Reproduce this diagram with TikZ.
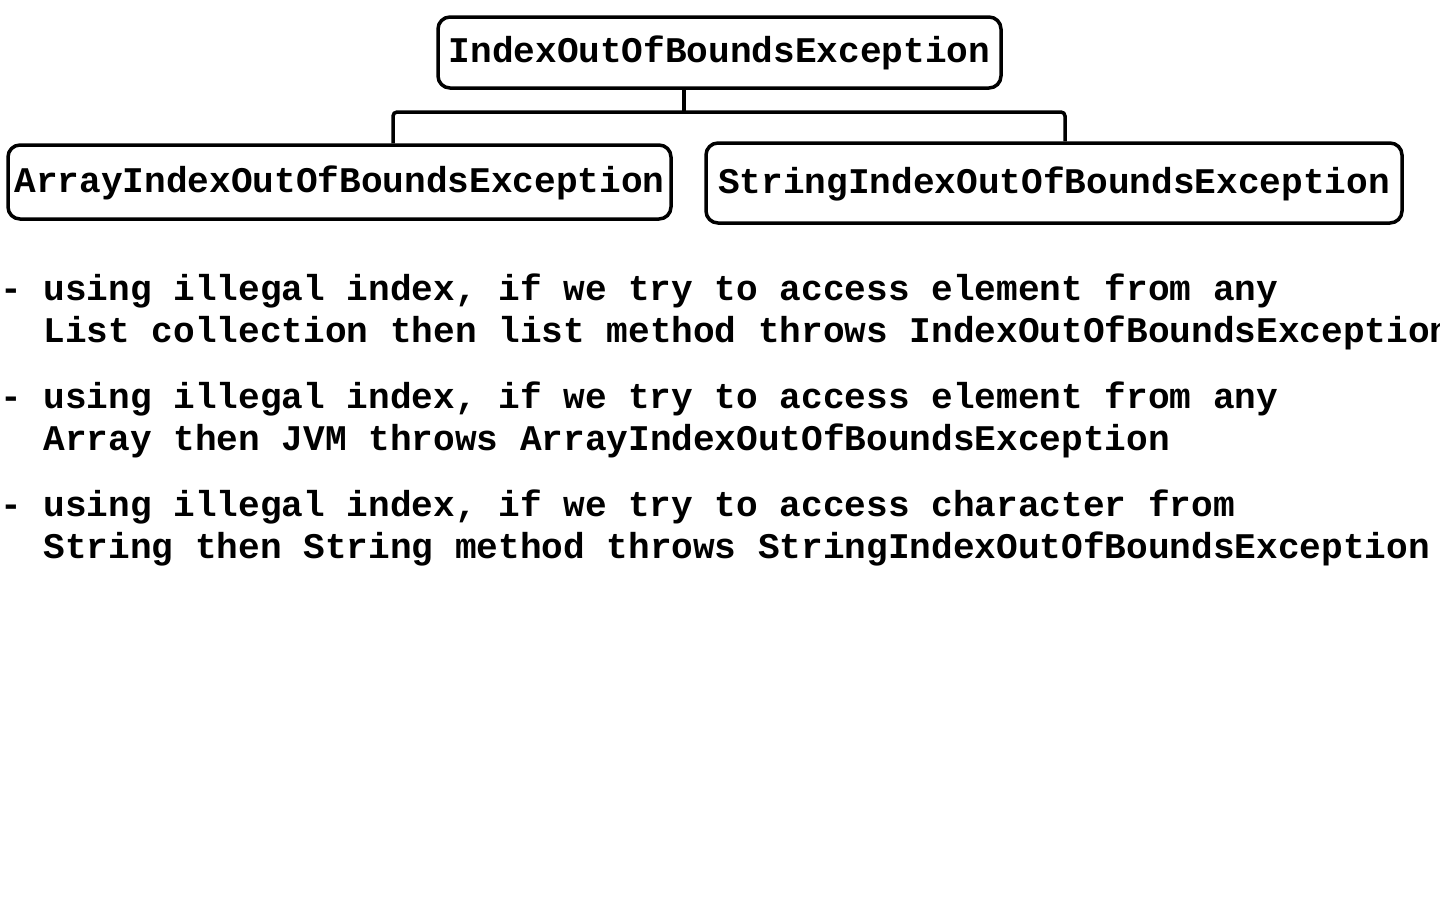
\documentclass[tikz,border=0pt]{standalone}
\usepackage{fontspec}
\newfontfamily\courfont{Liberation Mono}
\begin{document}
\begin{tikzpicture}[x=1pt,y=-1pt,
  every node/.style={font=\courfont\bfseries\fontsize{36.1}{42}\selectfont},
  exbox/.style={draw, line width=3.5pt, rounded corners=12pt, inner sep=0pt,
     text height=20.4pt, text depth=0pt},
  conn/.style={line width=3.5pt, rounded corners=4pt},
  bullet/.style={anchor=base west, inner sep=0pt}]
\useasboundingbox (0,0) rectangle (1440,900);
\node[exbox, minimum width=563pt, minimum height=71pt] (a) at (719.5,52.5) {IndexOutOfBoundsException};
\node[exbox, minimum width=663pt, minimum height=74pt] (b) at (339.5,182) {ArrayIndexOutOfBoundsException};
\node[exbox, minimum width=696pt, minimum height=80pt] (c) at (1054,183) {StringIndexOutOfBoundsException};
\coordinate (j) at (684,112);
\coordinate (bl) at (393,112);
\coordinate (br) at (1065,112);
\draw[line width=3.5pt] (a.south -| j) -- (j);
\draw[conn] (b.north -| bl) |- (j) -| (c.north -| br);
\node[bullet] (t1a) at (0,300) {- using illegal index, if we try to access element from any};
\node[bullet] (t1b) at (0,342) {\phantom{- }List collection then list method throws IndexOutOfBoundsException};
\node[bullet] (t2a) at (0,408) {- using illegal index, if we try to access element from any};
\node[bullet] (t2b) at (0,450) {\phantom{- }Array then JVM throws ArrayIndexOutOfBoundsException};
\node[bullet] (t3a) at (0,516) {- using illegal index, if we try to access character from};
\node[bullet] (t3b) at (0,558) {\phantom{- }String then String method throws StringIndexOutOfBoundsException};
\end{tikzpicture}
\end{document}
